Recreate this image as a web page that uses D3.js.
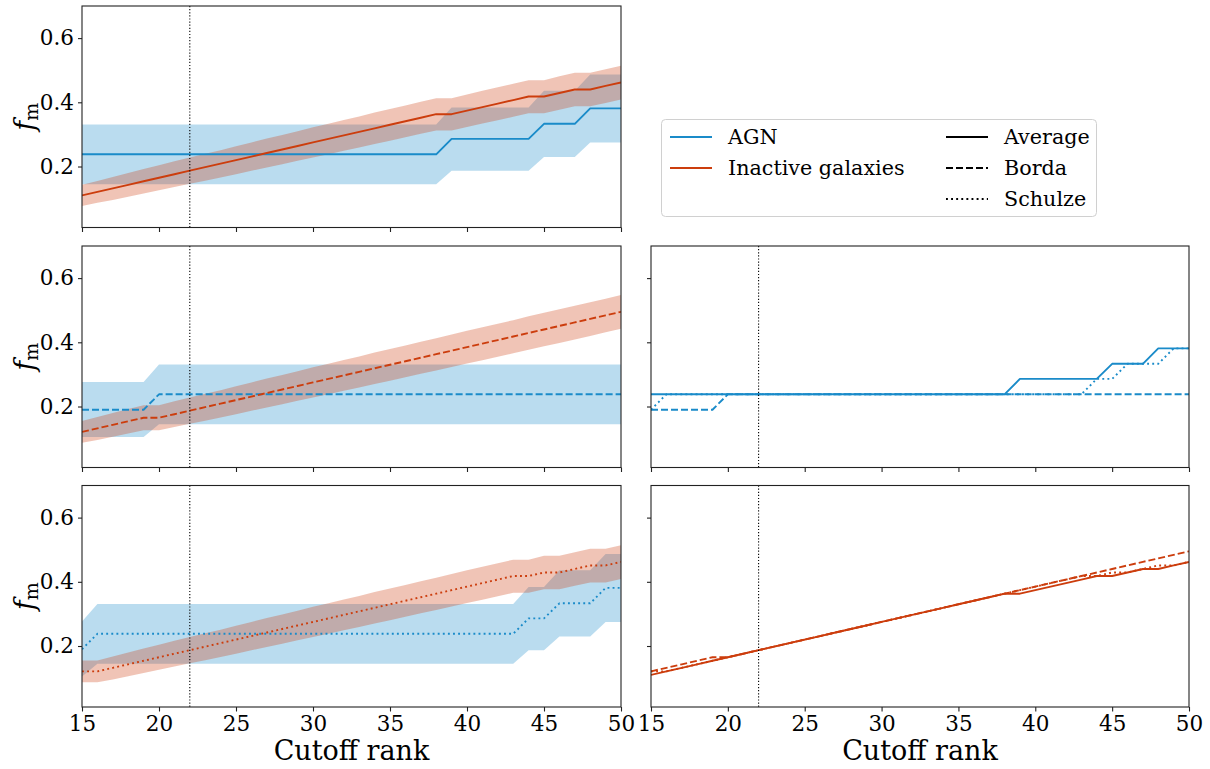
<!DOCTYPE html>
<html>
<head>
<meta charset="utf-8">
<script src="https://cdn.jsdelivr.net/npm/d3@7"></script>
<style>
  html, body { margin: 0; padding: 0; background: #fff; }
  svg { display: block; }
  text { font-family: "DejaVu Serif", serif; fill: #000; }
</style>
</head>
<body>
<svg id="chart" width="1210" height="769"></svg>
<script>
// ---------------- data ----------------
const ranks = [15,16,17,18,19,20,21,22,23,24,25,26,27,28,29,30,31,32,33,34,35,36,37,38,39,40,41,42,43,44,45,46,47,48,49,50];
const xTicks = [15,20,25,30,35,40,45,50];
const yTicks = [0.2,0.4,0.6];
const cutoffRank = 22;

// AGN fraction, Average ranking
const agnAvg   = [.238,.238,.238,.238,.238,.238, .238,.238,.238,.238,.238,.238, .238,.238,.238,.238,.238,.238, .238,.238,.238,.238,.238,.238, .286,.286,.286,.286,.286,.286, .333,.333,.333,.381,.381,.381];
const agnAvgLo = [.145,.145,.145,.145,.145,.145, .145,.145,.145,.145,.145,.145, .145,.145,.145,.145,.145,.145, .145,.145,.145,.145,.145,.145, .187,.187,.187,.187,.187,.187, .230,.230,.230,.275,.275,.275];
const agnAvgHi = [.331,.331,.331,.331,.331,.331, .331,.331,.331,.331,.331,.331, .331,.331,.331,.331,.331,.331, .331,.331,.331,.331,.331,.331, .384,.384,.384,.384,.384,.384, .436,.436,.436,.487,.487,.487];
// AGN fraction, Borda ranking
const agnBorda   = [.190,.190,.190,.190,.190,.238, .238,.238,.238,.238,.238,.238, .238,.238,.238,.238,.238,.238, .238,.238,.238,.238,.238,.238, .238,.238,.238,.238,.238,.238, .238,.238,.238,.238,.238,.238];
const agnBordaLo = [.105,.105,.105,.105,.105,.145, .145,.145,.145,.145,.145,.145, .145,.145,.145,.145,.145,.145, .145,.145,.145,.145,.145,.145, .145,.145,.145,.145,.145,.145, .145,.145,.145,.145,.145,.145];
const agnBordaHi = [.276,.276,.276,.276,.276,.331, .331,.331,.331,.331,.331,.331, .331,.331,.331,.331,.331,.331, .331,.331,.331,.331,.331,.331, .331,.331,.331,.331,.331,.331, .331,.331,.331,.331,.331,.331];
// AGN fraction, Schulze ranking
const agnSchulze   = [.190,.238,.238,.238,.238,.238, .238,.238,.238,.238,.238,.238, .238,.238,.238,.238,.238,.238, .238,.238,.238,.238,.238,.238, .238,.238,.238,.238,.238,.286, .286,.333,.333,.333,.381,.381];
const agnSchulzeLo = [.105,.145,.145,.145,.145,.145, .145,.145,.145,.145,.145,.145, .145,.145,.145,.145,.145,.145, .145,.145,.145,.145,.145,.145, .145,.145,.145,.145,.145,.187, .187,.230,.230,.230,.275,.275];
const agnSchulzeHi = [.276,.331,.331,.331,.331,.331, .331,.331,.331,.331,.331,.331, .331,.331,.331,.331,.331,.331, .331,.331,.331,.331,.331,.331, .331,.331,.331,.331,.331,.384, .384,.436,.436,.436,.487,.487];

// Inactive galaxies fraction, Average ranking
const inaAvg   = [.110,.121,.132,.143,.154,.165, .176,.187,.198,.209,.220,.231, .242,.253,.264,.275,.286,.297, .308,.319,.330,.341,.352,.363, .363,.374,.385,.396,.407,.418, .418,.429,.440,.440,.451,.462];
const inaAvgLo = [.077,.087,.096,.106,.116,.126, .136,.146,.156,.166,.176,.187, .197,.207,.218,.228,.238,.249, .259,.270,.280,.291,.302,.312, .312,.323,.334,.344,.355,.366, .366,.377,.388,.388,.398,.409];
const inaAvgHi = [.143,.155,.167,.180,.192,.204, .216,.228,.240,.251,.263,.275, .287,.298,.310,.322,.333,.345, .356,.368,.379,.390,.402,.413, .413,.424,.436,.447,.458,.469, .469,.481,.492,.492,.503,.514];
// Inactive galaxies fraction, Borda ranking
const inaBorda   = [.121,.132,.143,.154,.165,.165, .176,.187,.198,.209,.220,.231, .242,.253,.264,.275,.286,.297, .308,.319,.330,.341,.352,.363, .374,.385,.396,.407,.418,.429, .440,.451,.462,.473,.484,.495];
const inaBordaLo = [.087,.096,.106,.116,.126,.126, .136,.146,.156,.166,.176,.187, .197,.207,.218,.228,.238,.249, .259,.270,.280,.291,.302,.312, .323,.334,.344,.355,.366,.377, .388,.398,.409,.420,.431,.442];
const inaBordaHi = [.155,.167,.180,.192,.204,.204, .216,.228,.240,.251,.263,.275, .287,.298,.310,.322,.333,.345, .356,.368,.379,.390,.402,.413, .424,.436,.447,.458,.469,.481, .492,.503,.514,.525,.536,.547];
// Inactive galaxies fraction, Schulze ranking
const inaSchulze   = [.121,.121,.132,.143,.154,.165, .176,.187,.198,.209,.220,.231, .242,.253,.264,.275,.286,.297, .308,.319,.330,.341,.352,.363, .374,.385,.396,.407,.418,.418, .429,.429,.440,.451,.451,.462];
const inaSchulzeLo = [.087,.087,.096,.106,.116,.126, .136,.146,.156,.166,.176,.187, .197,.207,.218,.228,.238,.249, .259,.270,.280,.291,.302,.312, .323,.334,.344,.355,.366,.366, .377,.377,.388,.398,.398,.409];
const inaSchulzeHi = [.155,.155,.167,.180,.192,.204, .216,.228,.240,.251,.263,.275, .287,.298,.310,.322,.333,.345, .356,.368,.379,.390,.402,.413, .424,.436,.447,.458,.469,.469, .481,.481,.492,.503,.503,.514];

const groupNames = ["AGN", "Inactive galaxies"];
const methodNames = ["Average", "Borda", "Schulze"];
const xLabel = "Cutoff rank";

// ---------------- style ----------------
const BLUE = "#1a8bc9";
const ORANGE = "#cc3d0d";
const FILL_OPACITY = 0.3;
const LW = 1.9;
const DASH = { Average: null, Borda: "7,3", Schulze: "1.9,3.2" };
const TICK_FS = "21.5px";
const LEG_FS = "20.7px";

const svg = d3.select("#chart");

const colX = [[82, 621], [651, 1189]];
const rowY = [6, 246, 485.5];
const PH = 221.5;

function makePanel(col, row) {
  const [x0, x1] = colX[col];
  const y0 = rowY[row];
  const x = d3.scaleLinear().domain([15, 50]).range([x0, x1]);
  const y = d3.scaleLinear().domain([0.01, 0.7]).range([y0 + PH, y0]);
  const id = `clip-${col}-${row}`;
  svg.append("clipPath").attr("id", id).append("rect")
    .attr("x", x0).attr("y", y0).attr("width", x1 - x0).attr("height", PH);
  const g = svg.append("g");
  const plot = g.append("g").attr("clip-path", `url(#${id})`);
  return { x, y, g, plot, x0, x1, y0, col, row };
}

function band(p, lo, hi, color) {
  const area = d3.area()
    .x((d, i) => p.x(ranks[i]))
    .y0((d, i) => p.y(lo[i]))
    .y1((d, i) => p.y(hi[i]));
  p.plot.append("path").attr("d", area(ranks))
    .attr("fill", color).attr("fill-opacity", FILL_OPACITY).attr("stroke", "none");
}

function line(p, vals, color, method) {
  const ln = d3.line().x((d, i) => p.x(ranks[i])).y((d, i) => p.y(vals[i]));
  const path = p.plot.append("path").attr("d", ln(ranks))
    .attr("fill", "none").attr("stroke", color).attr("stroke-width", LW)
    .attr("stroke-linejoin", "round");
  if (DASH[method]) path.attr("stroke-dasharray", DASH[method]);
}

function frame(p, showXLabels, showYLabels) {
  // cutoff marker
  p.plot.append("line")
    .attr("x1", p.x(cutoffRank)).attr("x2", p.x(cutoffRank))
    .attr("y1", p.y0).attr("y2", p.y0 + PH)
    .attr("stroke", "#000").attr("stroke-width", 1.1)
    .attr("stroke-dasharray", "1.2,1.9");

  const xa = d3.axisBottom(p.x).tickValues(xTicks).tickSize(4.5).tickPadding(4.5)
    .tickFormat(showXLabels ? d3.format("d") : () => "");
  const gx = p.g.append("g").attr("transform", `translate(0,${p.y0 + PH})`).call(xa);
  const ya = d3.axisLeft(p.y).tickValues(yTicks).tickSize(4).tickPadding(4)
    .tickFormat(showYLabels ? d3.format(".1f") : () => "");
  const gy = p.g.append("g").attr("transform", `translate(${p.x0},0)`).call(ya);
  [gx, gy].forEach(a => {
    a.select(".domain").remove();
    a.selectAll(".tick line").attr("stroke", "#222").attr("stroke-width", 1.1);
    a.selectAll(".tick text").style("font-family", "DejaVu Serif").style("font-size", TICK_FS).attr("fill", "#000");
  });

  p.g.append("rect")
    .attr("x", p.x0).attr("y", p.y0).attr("width", p.x1 - p.x0).attr("height", PH)
    .attr("fill", "none").attr("stroke", "#222").attr("stroke-width", 1.1);

  if (showYLabels) {
    const t = p.g.append("text")
      .attr("transform", `translate(34,${p.y0 + PH / 2}) rotate(-90)`)
      .attr("text-anchor", "middle")
      .style("font-size", "27px");
    t.append("tspan").text("f").style("font-style", "italic");
    t.append("tspan").text("m").attr("dy", "0.22em").style("font-size", "19px");
  }
  if (showXLabels) {
    p.g.append("text")
      .attr("x", (p.x0 + p.x1) / 2).attr("y", 760)
      .attr("text-anchor", "middle")
      .style("font-size", "27px")
      .text(xLabel);
  }
}

// Panel (0,0): Average
let p = makePanel(0, 0);
band(p, agnAvgLo, agnAvgHi, BLUE);
band(p, inaAvgLo, inaAvgHi, ORANGE);
line(p, agnAvg, BLUE, "Average");
line(p, inaAvg, ORANGE, "Average");
frame(p, false, true);

// Panel (0,1): Borda
p = makePanel(0, 1);
band(p, agnBordaLo, agnBordaHi, BLUE);
band(p, inaBordaLo, inaBordaHi, ORANGE);
line(p, agnBorda, BLUE, "Borda");
line(p, inaBorda, ORANGE, "Borda");
frame(p, false, true);

// Panel (0,2): Schulze
p = makePanel(0, 2);
band(p, agnSchulzeLo, agnSchulzeHi, BLUE);
band(p, inaSchulzeLo, inaSchulzeHi, ORANGE);
line(p, agnSchulze, BLUE, "Schulze");
line(p, inaSchulze, ORANGE, "Schulze");
frame(p, true, true);

// Panel (1,1): AGN, all methods
p = makePanel(1, 1);
line(p, agnAvg, BLUE, "Average");
line(p, agnBorda, BLUE, "Borda");
line(p, agnSchulze, BLUE, "Schulze");
frame(p, false, false);

// Panel (1,2): Inactive, all methods
p = makePanel(1, 2);
line(p, inaAvg, ORANGE, "Average");
line(p, inaBorda, ORANGE, "Borda");
line(p, inaSchulze, ORANGE, "Schulze");
frame(p, true, false);

// ---------------- legend ----------------
const lg = svg.append("g");
lg.append("rect").attr("x", 661.5).attr("y", 119.5).attr("width", 435).attr("height", 97)
  .attr("rx", 4).attr("fill", "#fff").attr("fill-opacity", 0.8)
  .attr("stroke", "#d0d0d0").attr("stroke-width", 1);
const rowsY = [137, 168, 199];
const groupColors = [BLUE, ORANGE];
groupNames.forEach((name, i) => {
  lg.append("line").attr("x1", 670).attr("x2", 712).attr("y1", rowsY[i]).attr("y2", rowsY[i])
    .attr("stroke", groupColors[i]).attr("stroke-width", LW);
  lg.append("text").attr("x", 728).attr("y", rowsY[i]).attr("dy", "0.36em")
    .style("font-size", LEG_FS).text(name);
});
methodNames.forEach((name, i) => {
  const l = lg.append("line").attr("x1", 946).attr("x2", 988).attr("y1", rowsY[i]).attr("y2", rowsY[i])
    .attr("stroke", "#000").attr("stroke-width", LW);
  if (DASH[name]) l.attr("stroke-dasharray", DASH[name]);
  lg.append("text").attr("x", 1004).attr("y", rowsY[i]).attr("dy", "0.36em")
    .style("font-size", LEG_FS).text(name);
});
</script>
</body>
</html>
